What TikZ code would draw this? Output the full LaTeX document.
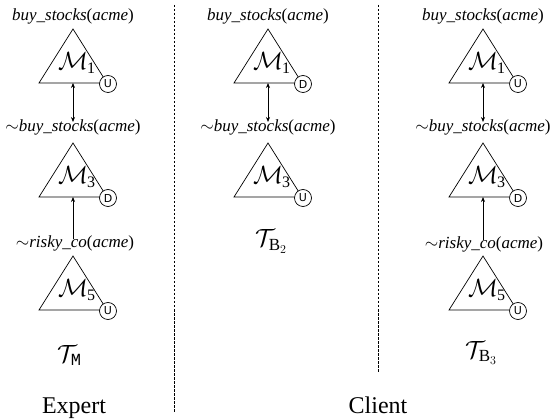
\documentclass[tikz,border=0pt]{standalone}
\usepackage{fontspec}
\setmainfont{Liberation Serif}
\setmonofont{Liberation Mono}
\newfontfamily\circfont{DejaVu Sans}
\usetikzlibrary{arrows.meta}
\tikzset{
  lbl/.style={inner sep=0pt, anchor=base, font=\fontsize{17}{20}\selectfont},
  modname/.style={inner sep=0pt, anchor=base west, font=\fontsize{25}{30}\selectfont},
  tname/.style={inner sep=0pt, anchor=base west, font=\fontsize{25}{30}\selectfont},
  side/.style={inner sep=0pt, anchor=base, font=\fontsize{24}{28}\selectfont},
  tri/.style={draw, line width=0.7pt},
  circ/.style={draw, circle, fill=white, line width=0.7pt, minimum size=17pt, inner sep=0pt, font=\circfont\fontsize{11}{12}\selectfont},
  conn/.style={line width=0.7pt},
  sep/.style={line width=0.8pt, dash pattern=on 2.5pt off 1.5pt},
}
\newcommand{\pred}[1]{\textit{#1}}
\newcommand{\bigsub}[1]{\mbox{\fontsize{17}{20}\selectfont #1}}
\newcommand{\modsub}[1]{\raisebox{-4pt}{\fontsize{16}{20}\selectfont #1}}
\begin{document}
\begin{tikzpicture}[x=1pt,y=-1pt, >={Stealth[length=5pt,width=4pt]}]
\useasboundingbox (0,0) rectangle (551,419);
% module macro: name, apex x, apex y, index, letter
\def\module#1#2#3#4#5{%
  \draw[tri] (#2,#3) -- ++(34,54) -- ++(-68,0) -- cycle;
  \coordinate (#1b) at (#2,#3+54);
  \node[modname] (#1m) at (#2-15,#3+41) {$\mathcal{M}$\kern-1pt\modsub{#4}};
  \node[circ] (#1c) at (#2+35,#3+55) {#5};
}
% column 1 (Expert)
\node[lbl] (a1) at (73,21) {\pred{buy\_stocks}(\pred{acme})};
\module{am1}{73}{29}{1}{U}
\node[lbl] (a2) at (73,132) {$\sim$\pred{buy\_stocks}(\pred{acme})};
\module{am3}{73}{143}{3}{D}
\node[lbl] (a3) at (75,248) {$\sim$\pred{risky\_co}(\pred{acme})};
\module{am5}{73}{256}{5}{U}
\node[tname] (at) at (57,362) {$\mathcal{T}_{\bigsub{\texttt{M}}}$};
\draw[conn,<->] (am1b) -- ([yshift=-2pt]am1b |- a2.north);
\draw[conn,->] ([yshift=-3pt]am3b |- a3.north) -- (am3b);
% column 2
\node[lbl] (b1) at (268,21) {\pred{buy\_stocks}(\pred{acme})};
\module{bm1}{268}{29}{1}{D}
\node[lbl] (b2) at (268,132) {$\sim$\pred{buy\_stocks}(\pred{acme})};
\module{bm3}{268}{143}{3}{U}
\node[tname] (bt) at (255,247) {$\mathcal{T}_{\bigsub{B$_2$}}$};
\draw[conn,<->] (bm1b) -- ([yshift=-2pt]bm1b |- b2.north);
% column 3
\node[lbl] (c1) at (483,21) {\pred{buy\_stocks}(\pred{acme})};
\module{cm1}{483}{29}{1}{U}
\node[lbl] (c2) at (483,132) {$\sim$\pred{buy\_stocks}(\pred{acme})};
\module{cm3}{483}{143}{3}{D}
\node[lbl] (c3) at (484,249) {$\sim$\pred{risky\_co}(\pred{acme})};
\module{cm5}{483}{256}{5}{U}
\node[tname] (ct) at (465,358) {$\mathcal{T}_{\bigsub{B$_3$}}$};
\draw[conn,<->] (cm1b) -- ([yshift=-2pt]cm1b |- c2.north);
\draw[conn,->] ([yshift=-3pt]cm3b |- c3.north) -- (cm3b);
% separators
\coordinate (s1t) at (174,5);
\coordinate (s1b) at (174,413);
\coordinate (s2t) at (378,5);
\coordinate (s2b) at (378,372);
\draw[sep] (s1t) -- (s1b);
\draw[sep] (s2t) -- (s2b);
% side names
\node[side] (expert) at (74,413) {Expert};
\node[side] (client) at (378,413) {Client};
\end{tikzpicture}
\end{document}
